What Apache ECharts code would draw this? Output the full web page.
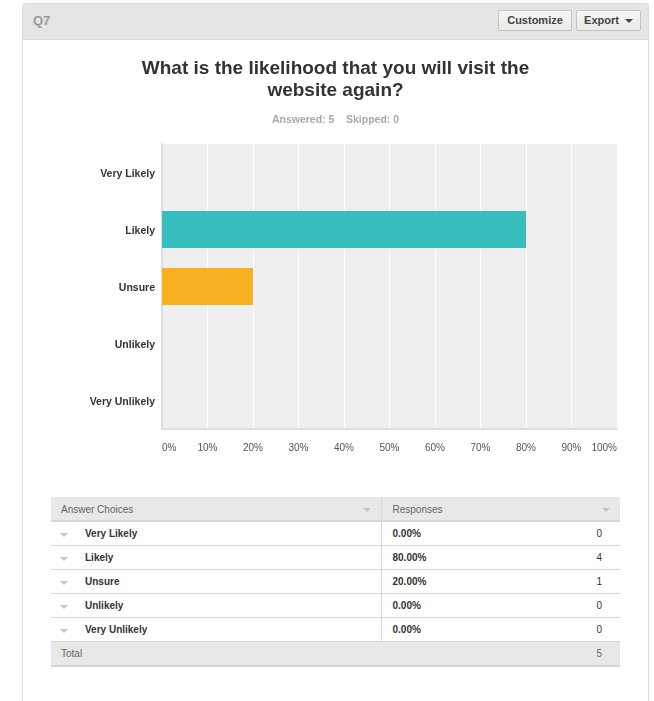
<!DOCTYPE html>
<html>
<head>
<meta charset="utf-8">
<script src="https://cdn.jsdelivr.net/npm/echarts@6/dist/echarts.min.js"></script>
<style>
  html, body { margin: 0; padding: 0; background: #ffffff; width: 654px; height: 701px; overflow: hidden; font-family: "Liberation Sans", Arial, sans-serif; }
  #card { position: absolute; left: 22px; top: 3px; width: 625px; height: 720px; border: 1px solid #dcdcda; border-radius: 3px; background: #fff; }
  #hdr { position: absolute; left: 0; top: 0; width: 625px; height: 35px; background: #e5e5e3; border-bottom: 1px solid #d9d9d7; }
  #q { position: absolute; left: 10px; top: 9px; font-size: 13px; color: #9a9a98; font-weight: bold; }
  .btn { position: absolute; top: 6px; height: 19px; border: 1px solid #c4c4c2; border-radius: 2px; background: linear-gradient(#f7f7f6, #e9e9e7); font-size: 11px; color: #444; line-height: 19px; text-align: center; font-weight: bold; }
  #chart { position: absolute; left: 22px; top: 0; width: 627px; height: 480px; }
  table { position: absolute; left: 51px; top: 497px; width: 569px; border-collapse: collapse; table-layout: fixed; font-size: 10px; color: #333; }
  td { height: 23px; line-height: 23px; padding: 0; border-bottom: 1px solid #d6d6d4; position: relative; vertical-align: middle; }
  tr.h td { height: 21px; line-height: 21px; padding-top: 2px; background: #e8e8e6; color: #666; border-bottom: 2px solid #d6d6d4; }
  tr.t td { line-height: 23px; background: #e8e8e6; color: #666; border-bottom: 2px solid #d6d6d4; }
  .div { border-left: 1px solid #d6d6d4; }
  .arr { position: absolute; top: 11px; width: 0; height: 0; border-left: 4px solid transparent; border-right: 4px solid transparent; border-top: 4px solid #c4c4c4; }
  .cnt { position: absolute; right: 18px; top: 0; }
  b { font-weight: bold; color: #333; }
</style>
</head>
<body>
<div id="card">
  <div id="hdr">
    <div id="q">Q7</div>
    <div class="btn" style="left:475px;width:72px;">Customize</div>
    <div class="btn" style="left:553px;width:63px;">Export <span style="display:inline-block;width:0;height:0;border-left:4px solid transparent;border-right:4px solid transparent;border-top:4px solid #444;margin-left:3px;vertical-align:middle;"></span></div>
  </div>
</div>
<div id="chart"></div>
<table id="tbl"><colgroup><col style="width:330px"><col style="width:239px"></colgroup><tbody id="tb"></tbody></table>
<script>
  var categories = ['Very Likely', 'Likely', 'Unsure', 'Unlikely', 'Very Unlikely'];
  var percentages = [0, 80, 20, 0, 0];
  var counts = [0, 4, 1, 0, 0];
  var total = 5;
  var skipped = 0;
  var xTicks = [0, 10, 20, 30, 40, 50, 60, 70, 80, 90, 100];
  var barColors = ['#8bc34a', '#37bebf', '#f7b020', '#e57373', '#9575cd'];

  var chart = echarts.init(document.getElementById('chart'));
  chart.setOption({
    animation: false,
    title: [
      {
        text: 'What is the likelihood that you will visit the\nwebsite again?',
        left: 'center', top: 53,
        textStyle: { fontFamily: 'Liberation Sans', fontSize: 19, fontWeight: 'bold', color: '#333', lineHeight: 22 }
      },
      {
        text: 'Answered: ' + total + '    Skipped: ' + skipped,
        left: 'center', top: 110,
        textStyle: { fontFamily: 'Liberation Sans', fontSize: 10.5, fontWeight: 'bold', color: '#a9a9a9' }
      }
    ],
    grid: { left: 140, right: 32, top: 144, height: 285, show: true, backgroundColor: '#efefef', borderWidth: 0 },
    xAxis: {
      type: 'value', min: xTicks[0], max: xTicks[xTicks.length - 1], interval: xTicks[1] - xTicks[0],
      axisLine: { show: true, lineStyle: { color: '#dedede', width: 2 } },
      axisTick: { show: false },
      splitLine: { show: true, lineStyle: { color: '#ffffff', width: 1 } },
      axisLabel: { formatter: '{value}%', fontFamily: 'Liberation Sans', fontSize: 10, color: '#555', margin: 14, alignMinLabel: 'left', alignMaxLabel: 'right' }
    },
    yAxis: {
      type: 'category', data: categories, inverse: true,
      axisLine: { show: true, lineStyle: { color: '#dedede', width: 2 } },
      axisTick: { show: false },
      axisLabel: { fontFamily: 'Liberation Sans', fontSize: 10.5, fontWeight: 'bold', color: '#333', margin: 7, verticalAlign: 'top', lineHeight: 4 }
    },
    series: [{
      type: 'bar',
      data: percentages.map(function (v, i) { return { value: v, itemStyle: { color: barColors[i] } }; }),
      barWidth: 37
    }]
  });

  var html = '<tr class="h"><td style="padding-left:10px;">Answer Choices<span class="arr" style="right:10px;"></span></td>' +
    '<td class="div" style="padding-left:11px;">Responses<span class="arr" style="right:10px;"></span></td></tr>';
  for (var i = 0; i < categories.length; i++) {
    html += '<tr><td style="padding-left:34px;"><span class="arr" style="left:9px;"></span><b>' + categories[i] + '</b></td>' +
      '<td class="div" style="padding-left:11px;"><b>' + percentages[i].toFixed(2) + '%</b><span class="cnt">' + counts[i] + '</span></td></tr>';
  }
  html += '<tr class="t"><td style="padding-left:10px;">Total</td><td><span class="cnt">' + total + '</span></td></tr>';
  document.getElementById('tb').innerHTML = html;
</script>
</body>
</html>
